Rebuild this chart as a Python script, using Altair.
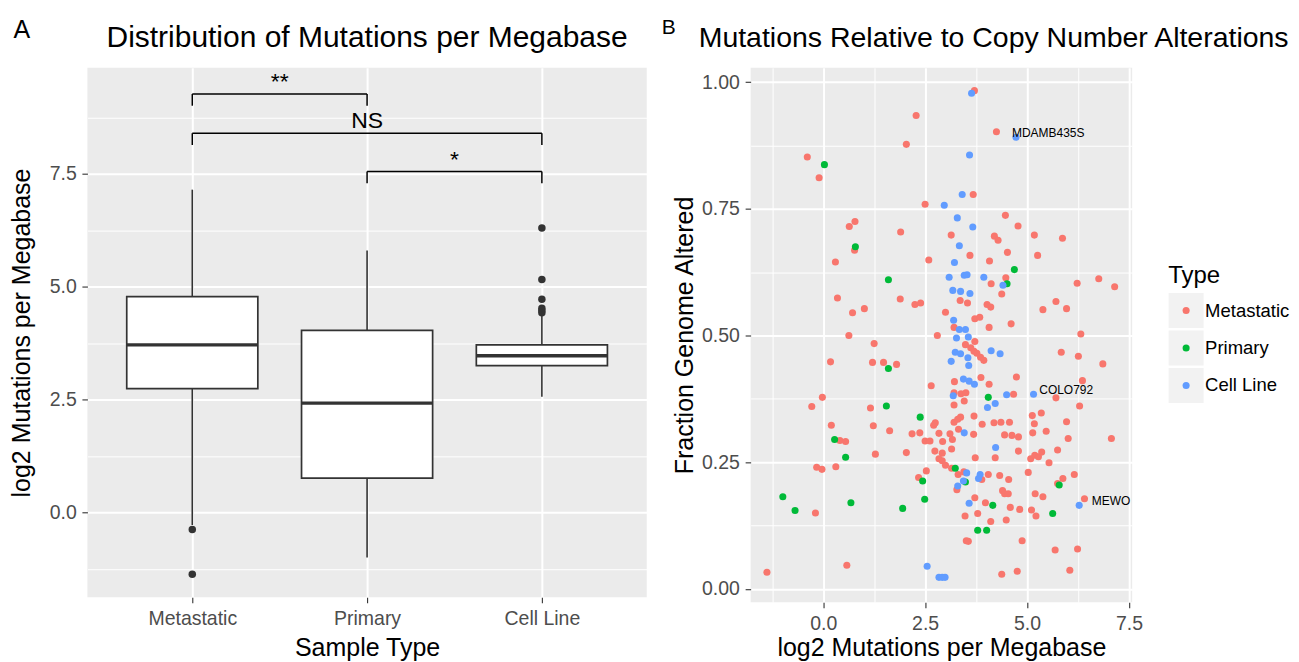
import altair as alt
import pandas as pd

FONT = "Liberation Sans"
RED, GREEN, BLUE = "#F8766D", "#00BA38", "#619CFF"
DARK = "#333333"

# ---------------- Panel A: box plot summaries ----------------
categories = ["Metastatic", "Primary", "Cell Line"]
cat_pos = [1, 2, 3]
whisker_low = [-0.28, -1.00, 2.56]
box_q1 = [2.74, 0.76, 3.25]
box_median = [3.71, 2.42, 3.47]
box_q3 = [4.78, 4.03, 3.71]
whisker_high = [7.15, 5.80, 4.37]

outlier_pos = [1, 1, 3, 3, 3, 3, 3, 3]
outlier_val = [-0.38, -1.37, 4.42, 4.47, 4.52, 4.72, 5.16, 6.30]

sig_start = [1, 1, 2]
sig_end = [2, 3, 3]
sig_height = [9.27, 8.40, 7.55]
sig_text = ["**", "NS", "*"]

# ---------------- Panel B: scatter ----------------
types = ["Metastatic", "Primary", "Cell Line"]

met_x = [3.71, 2.28, 4.25, 2.04, -0.39, -0.10, 3.68, 2.50, 4.47, 4.78, 0.78, 0.64, 1.90, 3.14, 4.20,
         4.29, 5.18, 5.87, 0.77, 4.52, 3.60, 5.26, 4.08, 2.59, 0.30,
         4.48, 4.12, 6.23, 6.76, 7.15, 4.38, 0.35, 1.89, 2.25, 2.39, 3.36, 3.54, 4.02, 4.11, 5.71,
         5.39, 5.97, 0.72, 1.01, 3.00, 3.72, 3.84, 4.61, 4.07, 3.21, 0.63, 2.80, 6.32, 1.25, 3.49,
         3.72, 3.62, 3.70, 3.77, 3.86, 3.94, 5.84, 6.26, 0.18, 1.21, 1.48, 1.80, 6.86, 4.74, 3.87,
         3.22, 4.07, 2.65, 6.36, 4.67, 3.21, 3.38, 3.50, 5.71, -0.02, -0.28, 1.16, 3.21, 3.46, 6.29,
         3.37, 3.70, 5.13, 5.35, 5.18, 5.97, 0.20, 1.23, 2.71, 2.75, 3.21, 3.30, 3.90, 4.19, 4.36,
         4.57, 3.32, 3.69, 1.63, 2.18, 2.37, 2.84, 3.11, 4.45, 4.63, 4.79, 5.14, 5.47, 0.41, 0.55,
         2.50, 2.62, 2.93, 3.17, 6.01, 7.07,
         2.74, 2.92, 3.15, 4.79, 5.75, 2.04, 1.28, -0.16, -0.03, 0.31, 2.53, 2.34, 2.84, 2.92, 3.00,
         3.15, 3.31, 3.45, 3.28, 3.73, 4.22, 3.89, 4.05, 4.33, 4.55, 5.03, 5.09, 5.19, 5.28, 5.36,
         5.54, 6.16, 5.88, 5.75, 4.40, 4.45, 4.54, 5.20, 5.39, 3.72, 3.98, 6.41, -0.19, 4.59, 4.82,
         5.11, 5.22, 3.48, 3.79, 4.11, 4.49, 3.51, 3.56, 4.88, 5.69, 6.24, 0.58, -1.38, 4.38, 4.76,
         6.05]
met_y = [0.983, 0.934, 0.902, 0.877, 0.852, 0.811, 0.778, 0.759, 0.737, 0.716, 0.725, 0.715, 0.704, 0.698, 0.696,
         0.688, 0.698, 0.692, 0.668, 0.664, 0.658, 0.658, 0.647, 0.649, 0.645,
         0.614, 0.602, 0.603, 0.612, 0.596, 0.582, 0.574, 0.572, 0.561, 0.564, 0.569, 0.564, 0.561, 0.556, 0.567,
         0.551, 0.553, 0.545, 0.553, 0.546, 0.533, 0.536, 0.523, 0.516, 0.516, 0.500, 0.500, 0.503, 0.484, 0.482,
         0.488, 0.476, 0.469, 0.465, 0.457, 0.451, 0.467, 0.459, 0.448, 0.447, 0.447, 0.443, 0.444, 0.418, 0.417,
         0.409, 0.404, 0.401, 0.411, 0.384, 0.387, 0.385, 0.387, 0.377, 0.378, 0.360, 0.357, 0.363, 0.371, 0.361,
         0.339, 0.341, 0.342, 0.347, 0.326, 0.330, 0.323, 0.322, 0.323, 0.328, 0.329, 0.335, 0.325, 0.328, 0.329,
         0.329, 0.315, 0.305, 0.312, 0.306, 0.308, 0.307, 0.306, 0.304, 0.303, 0.300, 0.308, 0.311, 0.293, 0.291,
         0.292, 0.292, 0.291, 0.295, 0.297, 0.297,
         0.272, 0.268, 0.276, 0.272, 0.274, 0.269, 0.266, 0.240, 0.236, 0.241, 0.233, 0.220, 0.257, 0.253, 0.244,
         0.238, 0.226, 0.231, 0.196, 0.259, 0.259, 0.216, 0.226, 0.224, 0.216, 0.230, 0.257, 0.264, 0.261, 0.270,
         0.249, 0.226, 0.218, 0.208, 0.194, 0.188, 0.188, 0.188, 0.182, 0.180, 0.170, 0.178, 0.150, 0.161, 0.157,
         0.156, 0.144, 0.144, 0.149, 0.133, 0.136, 0.095, 0.094, 0.095, 0.077, 0.079, 0.047, 0.033, 0.029, 0.035,
         0.037]

pri_x = [0.03, 0.79, 4.69, 1.60, 4.51, 1.60, 4.05, 1.55, 2.38, 0.28, 0.55, 2.44, 3.24, 3.49, 5.79,
         4.16, -0.99, -0.69, 0.68, 1.95, 2.49, 5.63, 3.79, 4.01]
pri_y = [0.837, 0.675, 0.630, 0.610, 0.602, 0.435, 0.378, 0.361, 0.339, 0.295, 0.260, 0.213, 0.238, 0.211, 0.205,
         0.165, 0.182, 0.155, 0.170, 0.159, 0.177, 0.149, 0.116, 0.116]

cl_x = [3.64, 4.73, 3.59, 3.41, 2.97, 3.29, 3.67, 3.34, 3.22,
        3.09, 3.46, 3.53, 3.94, 4.41, 3.18, 3.37, 3.60, 3.20, 3.34, 3.49, 3.27, 3.56, 3.24, 3.37, 4.12,
        4.34, 3.55, 3.14, 3.57, 3.44, 3.58, 3.71, 5.16, 4.50, 3.19, 4.22, 4.03, 3.46, 4.23,
        3.52, 3.44, 3.30, 3.85, 3.81, 3.58, 6.28, 2.55, 2.84, 2.92, 2.99]
cl_y = [0.978, 0.891, 0.856, 0.778, 0.757, 0.732, 0.714, 0.677, 0.644,
        0.615, 0.619, 0.620, 0.615, 0.599, 0.589, 0.587, 0.583, 0.530, 0.512, 0.512, 0.495, 0.497, 0.467, 0.464, 0.470,
        0.464, 0.456, 0.449, 0.441, 0.414, 0.410, 0.404, 0.384, 0.383, 0.381, 0.366, 0.358, 0.308, 0.279,
        0.229, 0.213, 0.203, 0.226, 0.218, 0.169, 0.165, 0.045, 0.023, 0.023, 0.023]

label_names = ["MDAMB435S", "COLO792", "MEWO"]
label_x = [4.63, 5.30, 6.59]
label_y = [0.900, 0.392, 0.173]

# ---------------- tables ----------------
BOX_HALF = 0.375
TIP = 0.26

box_df = pd.DataFrame({"cat": categories, "pos": cat_pos, "lo": whisker_low, "q1": box_q1,
                       "med": box_median, "q3": box_q3, "hi": whisker_high})
box_df["left"] = box_df["pos"] - BOX_HALF
box_df["right"] = box_df["pos"] + BOX_HALF
out_df = pd.DataFrame({"pos": outlier_pos, "val": outlier_val})

seg_rows = []
for a, b, h in zip(sig_start, sig_end, sig_height):
    seg_rows.append({"x": a, "x2": b, "y": h, "y2": h})
    seg_rows.append({"x": a, "x2": a, "y": h - TIP, "y2": h})
    seg_rows.append({"x": b, "x2": b, "y": h - TIP, "y2": h})
seg_df = pd.DataFrame(seg_rows)
sig_df = pd.DataFrame({"mid": [(a + b) / 2 for a, b in zip(sig_start, sig_end)],
                       "y": sig_height, "t": sig_text})

pts = pd.concat([
    pd.DataFrame({"x": met_x, "y": met_y, "Type": "Metastatic"}),
    pd.DataFrame({"x": pri_x, "y": pri_y, "Type": "Primary"}),
    pd.DataFrame({"x": cl_x, "y": cl_y, "Type": "Cell Line"}),
], ignore_index=True)
lab_df = pd.DataFrame({"name": label_names, "lx": label_x, "ly": label_y})
leg_df = pd.DataFrame({"Type": types, "idx": list(range(len(types)))})

# ---------------- axes ----------------
def cond(test, yes, no):
    return {"condition": {"test": test, "value": yes}, "value": no}

common = dict(domain=False, tickColor=DARK, tickWidth=1.1, tickSize=5.5,
              labelColor="#4D4D4D", labelFontSize=19.5, labelFont=FONT,
              titleFont=FONT, titleFontSize=25, titleFontWeight="normal", titleColor="black",
              gridColor="white", labelFlush=False, labelOverlap=False,
              titleBaseline="alphabetic", titleAlign="center")

cat_js = "[" + ",".join("'" + c + "'" for c in categories) + "]"
TEST25 = "abs(datum.value % 2.5) < 0.001"
TESTQ = "abs(datum.value * 4 - round(datum.value * 4)) < 0.001"

W_A, H_A = 560, 530
W_B, H_B = 382, 535

xa_A = alt.Axis(values=cat_pos, labelExpr=cat_js + "[round(datum.value) - 1]",
                title="Sample Type", grid=True, gridWidth=2, labelBaseline="alphabetic",
                labelPadding=21.7, titleX=W_A / 2, titleY=58.5, **common)
ya_A = alt.Axis(values=[-1.25, 0, 1.25, 2.5, 3.75, 5, 6.25, 7.5, 8.75],
                labelExpr="abs(datum.value % 2.5) < 0.001 ? format(datum.value, '.1f') : ''",
                title="log2 Mutations per Megabase", grid=True,
                gridWidth=cond(TEST25, 2, 1), tickOpacity=cond(TEST25, 1, 0),
                labelPadding=5.7, titleX=-58, titleY=H_A / 2, **common)
xa_B = alt.Axis(values=[-1.25, 0, 1.25, 2.5, 3.75, 5, 6.25, 7.5],
                labelExpr="abs(datum.value % 2.5) < 0.001 ? format(datum.value, '.1f') : ''",
                title="log2 Mutations per Megabase", grid=True,
                gridWidth=cond(TEST25, 2, 1), tickOpacity=cond(TEST25, 1, 0),
                labelBaseline="alphabetic", labelPadding=21.7, titleX=W_B / 2, titleY=53, **common)
ya_B = alt.Axis(values=[0, 0.125, 0.25, 0.375, 0.5, 0.625, 0.75, 0.875, 1.0],
                labelExpr="abs(datum.value * 4 - round(datum.value * 4)) < 0.001 ? format(datum.value, '.2f') : ''",
                title="Fraction Genome Altered", grid=True,
                gridWidth=cond(TESTQ, 2, 1), tickOpacity=cond(TESTQ, 1, 0),
                labelPadding=5.7, titleX=-58.5, titleY=H_B / 2, **common)

xs_A = alt.Scale(domain=[0.4, 3.6], nice=False, zero=False)
ys_A = alt.Scale(domain=[-1.88, 9.85], nice=False, zero=False)
xs_B = alt.Scale(domain=[-1.78, 7.58], nice=False, zero=False)
ys_B = alt.Scale(domain=[-0.026, 1.028], nice=False, zero=False)


def XA(f):
    return alt.X(f, type="quantitative", scale=xs_A, axis=xa_A)


def YA(f):
    return alt.Y(f, type="quantitative", scale=ys_A, axis=ya_A)


def XB(f):
    return alt.X(f, type="quantitative", scale=xs_B, axis=xa_B)


def YB(f):
    return alt.Y(f, type="quantitative", scale=ys_B, axis=ya_B)


# ---------------- Panel A ----------------
w_lo = alt.Chart(box_df).mark_rule(color=DARK, strokeWidth=1.6).encode(x=XA("pos"), y=YA("lo"), y2="q1:Q")
w_hi = alt.Chart(box_df).mark_rule(color=DARK, strokeWidth=1.6).encode(x=XA("pos"), y=YA("q3"), y2="hi:Q")
boxes = alt.Chart(box_df).mark_rect(fill="white", stroke=DARK, strokeWidth=1.7).encode(
    x=XA("left"), x2="right:Q", y=YA("q1"), y2="q3:Q")
meds = alt.Chart(box_df).mark_rule(color=DARK, strokeWidth=3.4).encode(x=XA("left"), x2="right:Q", y=YA("med"))
outs = alt.Chart(out_df).mark_circle(color=DARK, size=56, opacity=1).encode(x=XA("pos"), y=YA("val"))
brk = alt.Chart(seg_df).mark_rule(color="black", strokeWidth=1.5).encode(
    x=XA("x"), x2="x2:Q", y=YA("y"), y2="y2:Q")
brk_txt = alt.Chart(sig_df).mark_text(font=FONT, fontSize=23, color="black", baseline="alphabetic", dy=-5).encode(
    x=XA("mid"), y=YA("y"), text="t:N")
tag_A = alt.Chart(pd.DataFrame({"t": ["A"]})).mark_text(
    font=FONT, fontSize=25, color="black", baseline="alphabetic", align="center").encode(
    x=alt.value(-65.7), y=alt.value(-30.3), text="t:N")
title_A = alt.Chart(pd.DataFrame({"t": ["Distribution of Mutations per Megabase"]})).mark_text(
    font=FONT, fontSize=30, color="black", baseline="alphabetic", align="center").encode(
    x=alt.value(W_A / 2), y=alt.value(-20.8), text="t:N")

left = alt.layer(w_lo, w_hi, boxes, meds, outs, brk, brk_txt, tag_A, title_A).properties(
    width=W_A, height=H_A, view=alt.ViewBackground(fill="#EBEBEB", strokeWidth=0))

# ---------------- Panel B ----------------
color_scale = alt.Scale(domain=types, range=[RED, GREEN, BLUE])
dots = alt.Chart(pts).mark_circle(size=50, opacity=1).encode(
    x=XB("x"), y=YB("y"), color=alt.Color("Type:N", scale=color_scale, legend=None))
labs = alt.Chart(lab_df).mark_text(font=FONT, fontSize=12, color="black", align="left", baseline="middle").encode(
    x=XB("lx"), y=YB("ly"), text="name:N")
tag_B = alt.Chart(pd.DataFrame({"t": ["B"]})).mark_text(
    font=FONT, fontSize=21, color="black", baseline="alphabetic", align="center").encode(
    x=alt.value(-82), y=alt.value(-33.7), text="t:N")
title_B = alt.Chart(pd.DataFrame({"t": ["Mutations Relative to Copy Number Alterations"]})).mark_text(
    font=FONT, fontSize=28.5, color="black", baseline="alphabetic", align="left").encode(
    x=alt.value(-52), y=alt.value(-21.3), text="t:N")

scatter = alt.layer(dots, labs, tag_B, title_B).properties(
    width=W_B, height=H_B, view=alt.ViewBackground(fill="#EBEBEB", strokeWidth=0))

# ---------------- legend panel ----------------
ys_L = alt.Scale(domain=[-6.48, 7.787], reverse=True, nice=False, zero=False)
LY = alt.Y("idx:Q", scale=ys_L, axis=None)
keys = alt.Chart(leg_df).mark_square(size=1225, color="#F2F2F2", opacity=1, filled=True).encode(
    x=alt.value(27), y=LY)
kdots = alt.Chart(leg_df).mark_circle(size=50, opacity=1).encode(
    x=alt.value(27), y=LY, color=alt.Color("Type:N", scale=color_scale, legend=None))
klabs = alt.Chart(leg_df).mark_text(font=FONT, fontSize=18.5, color="black", align="left", baseline="middle").encode(
    x=alt.value(46), y=LY, text="Type:N")
ktitle = alt.Chart(pd.DataFrame({"t": ["Type"]})).mark_text(
    font=FONT, fontSize=24, color="black", align="left", baseline="middle").encode(
    x=alt.value(9), y=alt.value(208), text="t:N")
legend = alt.layer(keys, kdots, klabs, ktitle).properties(
    width=120, height=H_B, view=alt.ViewBackground(strokeWidth=0))

right = alt.hconcat(scatter, legend, spacing=27, bounds="flush")
chart = alt.hconcat(left, right, spacing=104, bounds="flush").properties(
    padding={"left": 1.5, "top": 8.5, "right": 0, "bottom": 0}
).configure(font=FONT).configure_view(strokeWidth=0)

chart.save("out.html", embed_options={"renderer": "svg", "actions": False})
